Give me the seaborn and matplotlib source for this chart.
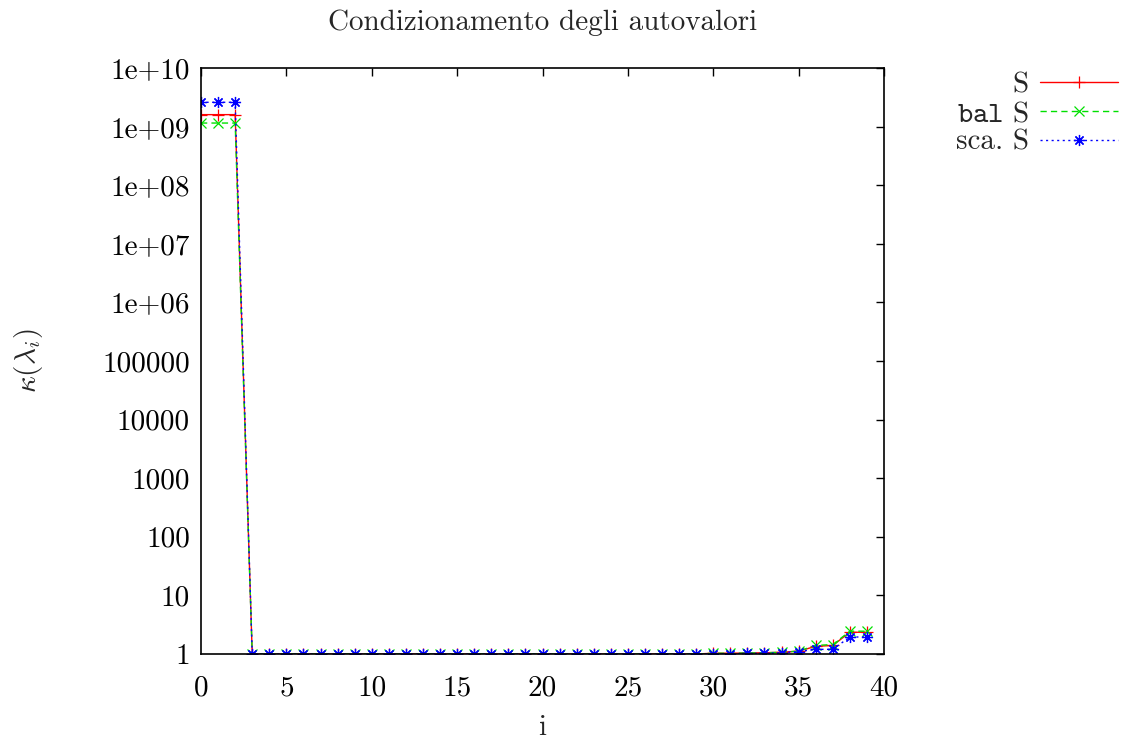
import numpy as np
import pandas as pd
import matplotlib
matplotlib.use("Agg")
import matplotlib.pyplot as plt
import seaborn as sns
from matplotlib.ticker import NullLocator, FixedLocator, FixedFormatter

# ---------------- data ----------------
idx = list(range(40))
s_vals = [1.6e9, 1.6e9, 1.6e9] + [1.0] * 27 + [1.03, 1.03, 1.04, 1.05, 1.07, 1.12, 1.35, 1.4, 2.35, 2.35]
bal_vals = [1.15e9, 1.15e9, 1.15e9] + [1.0] * 27 + [1.03, 1.03, 1.04, 1.05, 1.07, 1.12, 1.4, 1.45, 2.45, 2.45]
sca_vals = [2.6e9, 2.6e9, 2.6e9] + [1.0] * 27 + [1.01, 1.01, 1.02, 1.03, 1.05, 1.1, 1.2, 1.2, 1.95, 1.95]
labels = ["S", r"$\mathtt{bal}$ S", "sca. S"]
ytick_vals = [10.0 ** k for k in range(11)]
ytick_labels = ["1", "10", "100", "1000", "10000", "100000",
                "1e+06", "1e+07", "1e+08", "1e+09", "1e+10"]
xtick_vals = [0, 5, 10, 15, 20, 25, 30, 35, 40]

sns.set_style("white")
plt.rcParams["font.family"] = ["cmr10", "DejaVu Serif"]
plt.rcParams["mathtext.fontset"] = "cm"
plt.rcParams["axes.formatter.use_mathtext"] = True
plt.rcParams["axes.unicode_minus"] = False

fig = plt.figure(figsize=(11.26, 7.42), dpi=100)
ax = fig.add_axes([201 / 1126, 1 - 654 / 742, (884 - 201) / 1126, (654 - 68) / 742])

FS = 21
styles = [
    dict(color="#ff0000", marker="+", linestyle="-", markersize=9),
    dict(color="#00e000", marker="x", linestyle=(0, (4.5, 3)), markersize=7),
    dict(color="#0000ff", marker=(8, 2, 0), linestyle=(0, (1.5, 2.5)), markersize=8),
]
for vals, lab, st in zip([s_vals, bal_vals, sca_vals], labels, styles):
    df = pd.DataFrame({"i": idx, "k": vals})
    sns.lineplot(data=df, x="i", y="k", ax=ax, label=lab, linewidth=1.0,
                 markeredgecolor=st["color"], markeredgewidth=0.9, **st)

ax.set_yscale("log")
ax.set_xlim(0, 40)
ax.set_ylim(1, 1e10)
ax.yaxis.set_major_locator(FixedLocator(ytick_vals))
ax.yaxis.set_major_formatter(FixedFormatter(ytick_labels))
ax.yaxis.set_minor_locator(NullLocator())
ax.set_xticks(xtick_vals)
ax.set_xticklabels([str(v) for v in xtick_vals])
ax.tick_params(direction="in", length=6, width=1.0, top=True, right=True,
               labelsize=FS, colors="black")
ax.tick_params(axis="x", pad=15)
ax.tick_params(axis="y", pad=8)
for sp in ax.spines.values():
    sp.set_linewidth(1.2)
    sp.set_color("black")

ax.set_title("Condizionamento degli autovalori", fontsize=FS, pad=27)
ax.set_xlabel("i", fontsize=FS, labelpad=10)
ax.set_ylabel(r"$\kappa(\lambda_i)$", fontsize=FS, labelpad=41)

leg = ax.legend(loc="upper left", bbox_to_anchor=(1.088, 1.013), frameon=False,
                markerfirst=False, alignment="right", fontsize=FS,
                handlelength=2.65, handletextpad=0.4, labelspacing=0.08,
                borderaxespad=0)

fig.savefig("out.png", dpi=100)
